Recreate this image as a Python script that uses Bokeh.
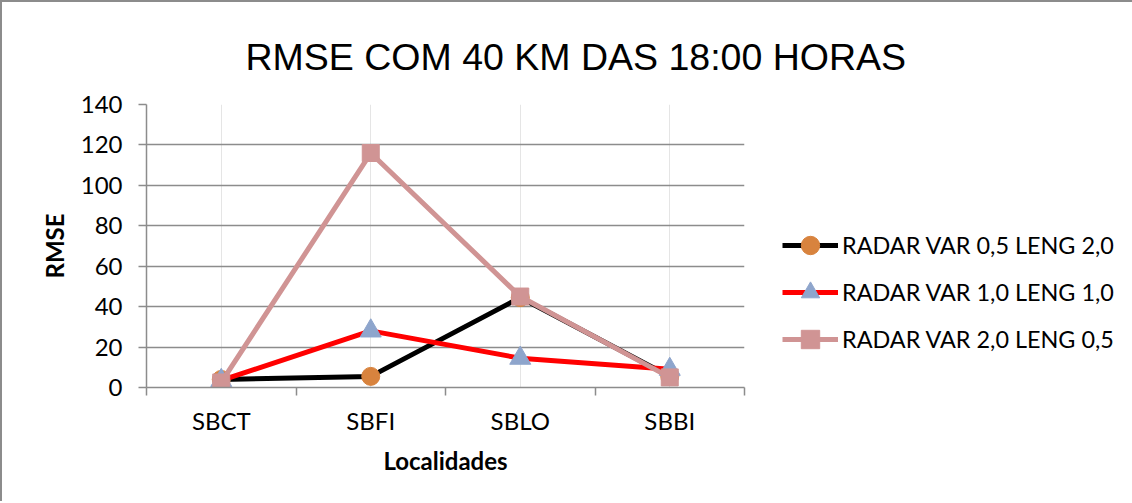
from bokeh.plotting import figure
from bokeh.models import (FactorRange, Range1d, LinearAxis, CategoricalAxis, FixedTicker,
                          Legend, LegendItem)
from bokeh.embed import file_html
from bokeh.resources import INLINE

# ---- data ----
categories = ["SBCT", "SBFI", "SBLO", "SBBI"]
series_names = ["RADAR VAR 0,5 LENG 2,0", "RADAR VAR 1,0 LENG 1,0", "RADAR VAR 2,0 LENG 0,5"]
var05_leng20 = [4.0, 5.5, 44.5, 5.5]
var10_leng10 = [3.5, 28.0, 14.5, 9.0]
var20_leng05 = [2.5, 116.0, 45.0, 5.0]
y_ticks = [0, 20, 40, 60, 80, 100, 120, 140]
title_text = "RMSE COM 40 KM DAS 18:00 HORAS"
x_label = "Localidades"
y_label = "RMSE"

GRAY = "#8c8c8c"
FONT = "Lato"

p = figure(x_range=FactorRange(factors=categories, range_padding=0),
           y_range=Range1d(y_ticks[0], y_ticks[-1]),
           frame_width=598, frame_height=283,
           min_border_left=144, min_border_right=386, min_border_top=102, min_border_bottom=114,
           x_axis_location=None, y_axis_location="left",
           output_backend="svg", toolbar_location=None)

p.outline_line_color = None
p.background_fill_color = "white"
p.border_fill_color = "white"
p.styles = {"border-left": "2px solid #8c8c8c", "border-top": "2px solid #8c8c8c"}

# title
p.title.text = title_text
p.title.align = "left"
p.title.offset = 99
p.title.standoff = 54
p.title.text_font = "Liberation Sans"
p.title.text_font_size = "37.5px"
p.title.text_font_style = "normal"
p.title.text_color = "black"

# y axis
ya = p.yaxis[0]
ya.ticker = FixedTicker(ticks=y_ticks)
ya.axis_line_color = GRAY
ya.axis_line_width = 1.5
ya.major_tick_line_color = GRAY
ya.major_tick_line_width = 1.5
ya.major_tick_out = 8
ya.major_tick_in = 0
ya.minor_tick_line_color = None
ya.major_label_text_font = FONT
ya.major_label_text_font_size = "24px"
ya.major_label_text_color = "black"
ya.major_label_standoff = 16
ya.axis_label = y_label
ya.axis_label_text_font = FONT
ya.axis_label_text_font_size = "24px"
ya.axis_label_text_font_style = "bold"
ya.axis_label_text_color = "black"
ya.axis_label_standoff = 9

p.ygrid.ticker = FixedTicker(ticks=y_ticks)
p.ygrid.grid_line_color = GRAY
p.ygrid.grid_line_width = 1.5

# x separator axis (ticks between categories, synthetic coordinates of the factor range)
sep_ticks = list(range(len(categories) + 1))
sep = LinearAxis(ticker=FixedTicker(ticks=sep_ticks))
sep.axis_line_color = GRAY
sep.axis_line_width = 1.5
sep.major_tick_line_color = GRAY
sep.major_tick_line_width = 1.5
sep.major_tick_out = 8
sep.major_tick_in = 0
sep.minor_tick_line_color = None
sep.major_label_overrides = {t: "" for t in sep_ticks}
sep.major_label_text_font_size = "1px"
sep.major_label_standoff = 0
p.add_layout(sep, "below")

# category axis
cat = CategoricalAxis()
cat.axis_line_color = None
cat.major_tick_line_color = None
cat.minor_tick_line_color = None
cat.major_tick_out = 0
cat.major_label_text_font = FONT
cat.major_label_text_font_size = "24px"
cat.major_label_text_color = "black"
cat.major_label_standoff = 10
cat.axis_label = x_label
cat.axis_label_text_font = FONT
cat.axis_label_text_font_size = "24px"
cat.axis_label_text_font_style = "bold"
cat.axis_label_text_color = "black"
cat.axis_label_standoff = 8
p.add_layout(cat, "below")

# series
specs = [
    (series_names[0], var05_leng20, "black", "circle", "#D8833E", 18),
    (series_names[1], var10_leng10, "#FF0000", "triangle", "#8EA5CC", 21),
    (series_names[2], var20_leng05, "#D09494", "square", "#D09494", 17),
]
items = []
for name, vals, lc, mk, mc, sz in specs:
    lr = p.line(categories, vals, line_color=lc, line_width=5)
    mr = p.scatter(categories, vals, marker=mk, size=sz, fill_color=mc, line_color=mc)
    items.append(LegendItem(label=name, renderers=[lr, mr]))

legend = Legend(items=items, location=(38, 25))
legend.padding = 0
legend.margin = 0
legend.border_line_color = None
legend.background_fill_alpha = 0
legend.glyph_width = 56
legend.glyph_height = 46
legend.label_height = 20
legend.spacing = 1
legend.label_standoff = 4
legend.label_text_font = FONT
legend.label_text_font_size = "23.4px"
legend.label_text_color = "black"
p.add_layout(legend, "right")

open("out.html", "w").write(file_html(p, INLINE))
